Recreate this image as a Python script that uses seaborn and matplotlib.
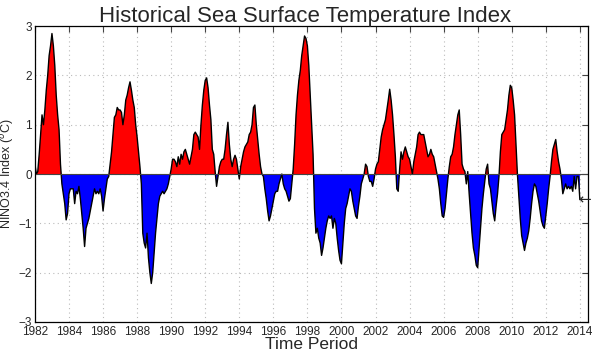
import matplotlib
matplotlib.use("Agg")
import matplotlib.pyplot as plt
import numpy as np
import seaborn as sns
import pandas as pd

# Monthly NINO3.4 anomalies (deg C), Jan 1982 .. Jan 2014
start_year = 1982
nino34 = [
    0.20, 0.00, 0.05, 0.40, 0.80, 1.20, 1.00, 1.30, 1.70, 2.00, 2.40, 2.60,   # 1982
    2.85, 2.60, 2.20, 1.60, 1.20, 0.90, 0.20, -0.20, -0.40, -0.60, -0.93, -0.80,  # 1983
    -0.40, -0.30, -0.30, -0.30, -0.60, -0.35, -0.40, -0.25, -0.50, -0.80, -1.10, -1.47,  # 1984
    -1.10, -1.00, -0.90, -0.75, -0.60, -0.45, -0.30, -0.40, -0.35, -0.40, -0.30, -0.45,  # 1985
    -0.75, -0.50, -0.30, -0.10, -0.05, 0.20, 0.45, 0.80, 1.15, 1.20, 1.35, 1.30,  # 1986
    1.30, 1.25, 1.00, 1.20, 1.50, 1.60, 1.75, 1.87, 1.70, 1.50, 1.35, 1.00,  # 1987
    0.75, 0.45, 0.15, -0.20, -1.20, -1.40, -1.50, -1.20, -1.70, -2.00, -2.22, -2.00,  # 1988
    -1.60, -1.20, -0.90, -0.60, -0.45, -0.40, -0.35, -0.40, -0.35, -0.30, -0.20, -0.05,  # 1989
    0.10, 0.30, 0.30, 0.25, 0.15, 0.35, 0.20, 0.40, 0.30, 0.45, 0.50, 0.40,  # 1990
    0.30, 0.20, 0.35, 0.50, 0.80, 0.85, 0.80, 0.75, 0.50, 1.00, 1.40, 1.70,  # 1991
    1.90, 1.95, 1.75, 1.40, 1.10, 0.50, 0.40, 0.05, -0.25, -0.05, 0.15, 0.25,  # 1992
    0.30, 0.30, 0.50, 0.80, 1.05, 0.60, 0.30, 0.15, 0.30, 0.38, 0.30, 0.10,  # 1993
    -0.10, 0.15, 0.30, 0.45, 0.55, 0.60, 0.65, 0.80, 0.85, 1.00, 1.35, 1.40,  # 1994
    1.00, 0.70, 0.40, 0.15, 0.00, -0.05, -0.30, -0.50, -0.75, -0.95, -0.85, -0.70,  # 1995
    -0.55, -0.40, -0.35, -0.35, -0.20, -0.10, 0.00, -0.20, -0.30, -0.35, -0.45, -0.55,  # 1996
    -0.50, -0.20, 0.10, 0.60, 1.20, 1.60, 1.90, 2.10, 2.40, 2.60, 2.80, 2.75,  # 1997
    2.60, 2.20, 1.60, 1.00, 0.40, -0.70, -1.20, -1.10, -1.30, -1.40, -1.65, -1.50,  # 1998
    -1.30, -1.10, -0.95, -0.85, -0.90, -0.85, -1.10, -0.90, -1.00, -1.30, -1.55, -1.75,  # 1999
    -1.82, -1.40, -1.00, -0.70, -0.60, -0.45, -0.30, -0.35, -0.55, -0.70, -0.85, -0.90,  # 2000
    -0.65, -0.45, -0.20, -0.10, 0.00, 0.20, 0.15, -0.05, -0.15, -0.15, -0.25, -0.10,  # 2001
    0.10, 0.20, 0.25, 0.50, 0.75, 0.90, 1.00, 1.10, 1.30, 1.50, 1.72, 1.50,  # 2002
    1.20, 0.80, 0.35, -0.30, -0.35, 0.10, 0.45, 0.30, 0.45, 0.55, 0.45, 0.35,  # 2003
    0.30, 0.15, 0.00, 0.25, 0.40, 0.55, 0.80, 0.85, 0.80, 0.80, 0.80, 0.65,  # 2004
    0.50, 0.35, 0.40, 0.50, 0.40, 0.35, 0.20, 0.05, -0.10, -0.30, -0.60, -0.85,  # 2005
    -0.88, -0.70, -0.40, -0.10, 0.15, 0.35, 0.40, 0.55, 0.80, 1.00, 1.20, 1.30,  # 2006
    0.80, 0.20, 0.10, 0.05, -0.20, 0.05, -0.40, -0.80, -1.20, -1.50, -1.65, -1.85,  # 2007
    -1.90, -1.50, -1.10, -0.70, -0.40, -0.15, 0.10, 0.20, -0.20, -0.30, -0.55, -0.80,  # 2008
    -0.95, -0.65, -0.40, -0.05, 0.45, 0.80, 0.85, 0.90, 1.10, 1.30, 1.60, 1.80,  # 2009
    1.75, 1.50, 1.20, 0.60, 0.00, -0.45, -0.90, -1.25, -1.40, -1.55, -1.40, -1.30,  # 2010
    -1.15, -0.90, -0.60, -0.35, -0.20, -0.25, -0.40, -0.55, -0.75, -0.95, -1.05, -1.10,  # 2011
    -0.85, -0.60, -0.30, -0.05, 0.25, 0.50, 0.60, 0.70, 0.45, 0.25, 0.10, -0.10,  # 2012
    -0.40, -0.30, -0.20, -0.30, -0.25, -0.30, -0.25, -0.35, -0.05, -0.30, -0.05, -0.05,  # 2013
    -0.52,  # 2014
]

year_ticks = list(range(1982, 2015, 2))
y_ticks = [-3, -2, -1, 0, 1, 2, 3]

df = pd.DataFrame({"year": start_year + np.arange(len(nino34)) / 12.0,
                   "index": nino34})

sns.set_style("white")
plt.rcParams["font.family"] = ["Liberation Sans", "DejaVu Sans"]

fig = plt.figure(figsize=(5.92, 3.53), dpi=100)
ax = fig.add_axes([0.059, 0.088, 0.934, 0.838])

# red for warm, blue for cold
ax.fill_between(df["year"], df["index"], 0, where=df["index"] >= 0,
                interpolate=True, color="#ff0000", linewidth=0)
ax.fill_between(df["year"], df["index"], 0, where=df["index"] <= 0,
                interpolate=True, color="#0000ff", linewidth=0)
sns.lineplot(data=df, x="year", y="index", color="black", linewidth=1.0, ax=ax)
ax.axhline(0, color="#444444", linewidth=0.8)

ax.set_xlim(1982, 2014.47)
ax.set_ylim(-3, 3)
ax.set_xticks(year_ticks)
ax.set_yticks(y_ticks)
ax.tick_params(direction="in", length=4, labelsize=8.5, top=True, right=True,
               width=0.8, color="#444444")
ax.tick_params(axis="y", pad=2)
ax.tick_params(axis="x", pad=3)
ax.grid(True, linestyle=(0, (1, 3)), color="#bbbbbb", linewidth=0.8)
for s in ax.spines.values():
    s.set_color("black")
    s.set_linewidth(0.9)

ax.set_title("Historical Sea Surface Temperature Index", fontsize=16, pad=3, x=0.488)
ax.set_xlabel("Time Period", fontsize=12.5, labelpad=-1)
ax.set_ylabel("NINO3.4 Index ($^{o}$C)", fontsize=9, labelpad=2)

# marker for the latest value
ax.annotate("\u2190", xy=(df["year"].iloc[-1], df["index"].iloc[-1]),
            xytext=(-1, 0), textcoords="offset points", ha="left", va="center",
            fontsize=11, family="DejaVu Sans", annotation_clip=False)

fig.savefig("out.png", dpi=100)
